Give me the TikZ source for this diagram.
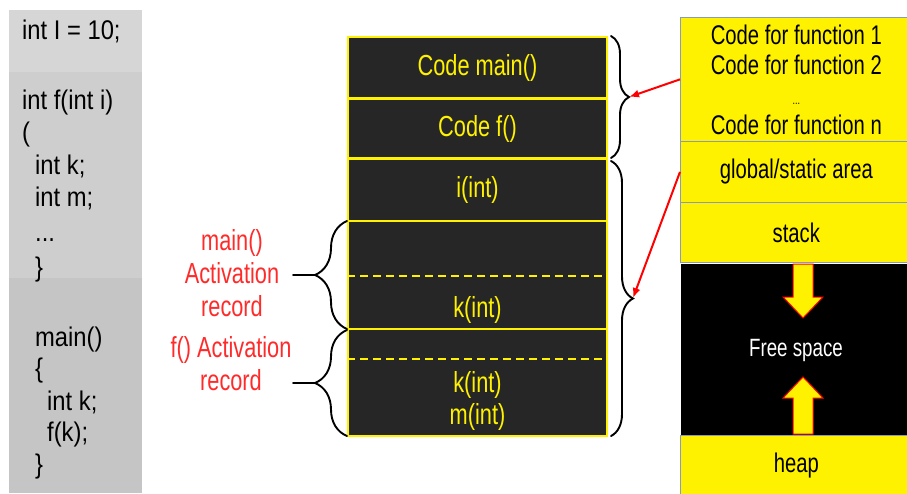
\documentclass[tikz,border=0pt]{standalone}
\usepackage{fontspec}
\setmainfont{Liberation Sans}[FakeStretch=0.75]
\newfontfamily\codefont{Liberation Sans}[FakeStretch=0.88]
\usetikzlibrary{decorations.pathreplacing,arrows.meta}
\definecolor{panelA}{HTML}{D6D6D6}
\definecolor{panelB}{HTML}{CECECE}
\definecolor{panelC}{HTML}{C5C5C5}
\definecolor{darkcell}{HTML}{262626}
\definecolor{memline}{HTML}{8A9BB8}
\definecolor{labelred}{HTML}{FF2A2A}
\newcommand{\codedots}{.{}.{}.}

\begin{document}
\begin{tikzpicture}[
    x=1pt, y=-1pt,
    codeline/.style={anchor=base west, inner sep=0, font=\codefont\fontsize{27}{30}\selectfont},
    cell/.style={draw=yellow, line width=1.5pt, fill=darkcell, text=yellow, minimum width=259pt, inner sep=0, font=\fontsize{29}{32}\selectfont},
    celltext/.style={text=yellow, align=center, font=\fontsize{29}{32}\selectfont},
    split/.style={yellow, line width=1.3pt, dash pattern=on 8pt off 5pt},
    mem/.style={draw=memline, line width=0.7pt, fill=yellow, minimum width=232pt, anchor=north west, align=center, font=\fontsize{27}{30}\selectfont},
    arlabel/.style={text=labelred, align=center, font=\fontsize{29}{33}\selectfont},
    bracepen/.style={draw=black, line width=1.9pt, line cap=round},
    pointer/.style={-{Latex[length=10pt,width=8pt]}, red, line width=2pt},
    blockarrow/.style={fill=yellow, draw=red, line width=1pt, line join=miter}
]
\useasboundingbox (0,0) rectangle (907,493);

% Source code panel
\fill[panelA] (9,10) rectangle (142,72);
\fill[panelB] (9,72) rectangle (142,278);
\fill[panelC] (9,278) rectangle (142,493);
\foreach \x/\y/\txt [count=\i] in {22/39/int I = 10;, 22/109/int f(int i), 22/141/(,
    35/174/int k;, 35/206/int m;, 35/241/\codedots, 35/276/\},
    35/346/main(), 35/377/\{, 47/410/int k;, 47/441/f(k);, 35/473/\}}
  \node[codeline] (code\i) at (\x,\y) {\txt};

% Run-time stack
\node[cell, minimum height=61pt] (codemain) at (477.5,67.5) {Code main()};
\node[cell, minimum height=59pt] (codef) at (477.5,128.5) {Code f()};
\node[cell, minimum height=61pt] (iint) at (477.5,190) {i(int)};
\node[cell, minimum height=108pt] (mainar) at (477.5,275) {};
\node[cell, minimum height=107pt] (far) at (477.5,382.5) {};
\draw[split] (mainar.west |- 0,276) -- (mainar.east |- 0,276);
\draw[split] (far.west |- 0,359) -- (far.east |- 0,359);
\node[celltext] (kmain) at (477.5,310) {k(int)};
\node[celltext] (kmf) at (477.5,401) {k(int)\\m(int)};

% Braces
\draw[bracepen, decorate, decoration={brace, amplitude=18pt}] (611,36) -- (611,158);
\coordinate (codetip) at (629,97);
\draw[bracepen, decorate, decoration={brace, amplitude=22pt}] (611,161) -- (611,436);
\coordinate (stacktip) at (633,298);
\draw[bracepen, decorate, decoration={brace, amplitude=32pt}] (347,329) -- (347,221);
\coordinate (maintip) at (315,275);
\draw[bracepen, decorate, decoration={brace, amplitude=32pt}] (347,436) -- (347,330);
\coordinate (ftip) at (315,383);
\draw[bracepen] (maintip) -- ++(-22,0);
\draw[bracepen] (ftip) -- ++(-22,0);

% Activation record labels
\node[arlabel] (mainlbl) at (232,273) {main()\\Activation\\record};
\node[arlabel] (flbl) at (231,364) {f() Activation\\record};

% Memory layout
\node[mem, minimum height=124pt] (codearea) at (680,17)
  {Code for function 1\\Code for function 2\\{\fontsize{12}{30}\selectfont \codedots}\\Code for function n};
\node[mem, minimum height=61pt] (global) at (680,141) {global/static area};
\node[mem, minimum height=60pt] (stack) at (680,202) {stack};
\node[mem, fill=black, draw=white, minimum height=172pt] (free) at (680,263) {};
\node[text=white, font=\fontsize{25}{28}\selectfont] (freelbl) at (796,350) {Free space};
\node[mem, minimum height=61pt] (heap) at (680,435) {heap};

% Growth arrows
\draw[blockarrow] (793,264) -- (813,264) -- (813,297) -- (823,297) -- (803,318)
  -- (783,297) -- (793,297) -- cycle;
\draw[blockarrow] (793,434) -- (813,434) -- (813,398) -- (823,398) -- (803,377)
  -- (783,398) -- (793,398) -- cycle;

% Pointers
\draw[pointer] (codearea.west) -- (codetip);
\draw[pointer] (global.west) -- (stacktip);

\end{tikzpicture}
\end{document}
